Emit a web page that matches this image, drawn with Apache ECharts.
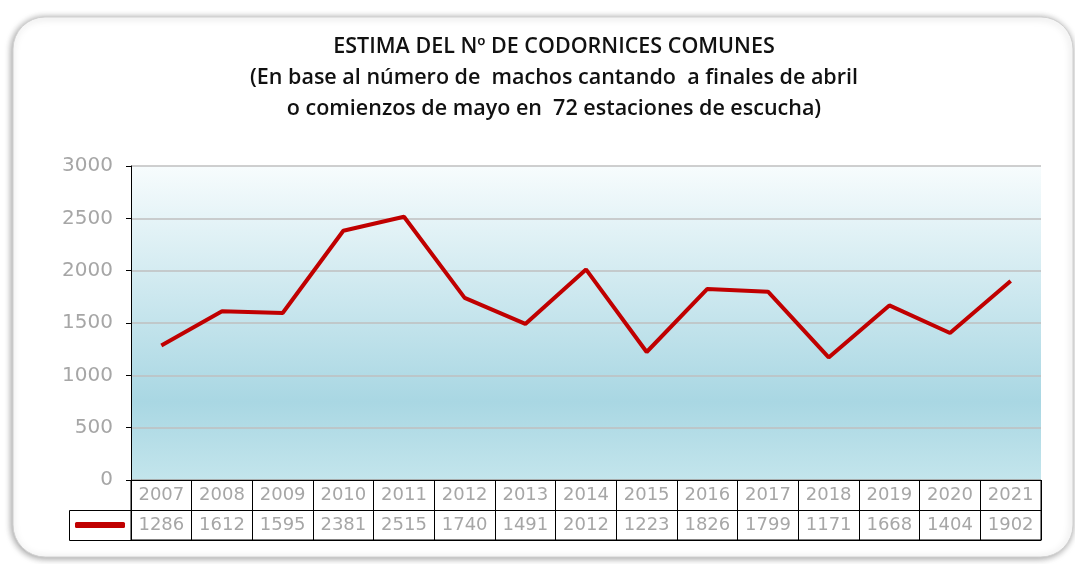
<!DOCTYPE html>
<html>
<head>
<meta charset="utf-8">
<script src="https://cdn.jsdelivr.net/npm/echarts@6/dist/echarts.min.js"></script>
<style>
  html, body { margin: 0; padding: 0; background: #fff; }
  #main { width: 1075px; height: 564px; }
</style>
</head>
<body>
<div id="main"></div>
<script>
// data
const years = ['2007', '2008', '2009', '2010', '2011', '2012', '2013', '2014', '2015', '2016', '2017', '2018', '2019', '2020', '2021'];
const estimates = [1286, 1612, 1595, 2381, 2515, 1740, 1491, 2012, 1223, 1826, 1799, 1171, 1668, 1404, 1902];
const titleLines = [
  'ESTIMA DEL Nº DE CODORNICES COMUNES',
  '(En base al número de  machos cantando  a finales de abril',
  'o comienzos de mayo en  72 estaciones de escucha)'
];

const chart = echarts.init(document.getElementById('main'));

const gridLeft = 131;
const gridRight = 34;
const labelGray = '#a6a6a6';

const option = {
  animation: false,
  title: {
    text: titleLines.join('\n'),
    left: 549,
    top: 26,
    textAlign: 'center',
    textStyle: {
      fontFamily: 'Open Sans',
      fontWeight: 600,
      fontSize: 21.5,
      lineHeight: 31,
      color: '#111'
    }
  },
  // card behind everything
  graphic: [
    {
      type: 'rect',
      z: -10,
      shape: { x: 13, y: 17, width: 1060, height: 540, r: 32 },
      style: {
        fill: '#fff',
        stroke: '#d0d0d0',
        lineWidth: 1,
        shadowBlur: 7,
        shadowOffsetX: -1,
        shadowOffsetY: 1,
        shadowColor: 'rgba(0,0,0,0.4)'
      }
    },
    {
      // legend cell of the data table
      type: 'rect',
      z: 5,
      shape: { x: 69.5, y: 510.5, width: gridLeft - 69.5, height: 30 },
      style: { fill: '#fff', stroke: '#000', lineWidth: 1 }
    }
  ],
  legend: {
    left: 70,
    top: 517,
    z: 10,
    icon: 'roundRect',
    itemWidth: 50,
    itemHeight: 6,
    formatter: () => '',
    data: [{ name: 'estima', itemStyle: { color: '#c00000' } }]
  },
  grid: [
    {
      left: gridLeft,
      right: gridRight,
      top: 166,
      height: 314,
      show: true,
      borderWidth: 0,
      backgroundColor: new echarts.graphic.LinearGradient(0, 0, 0, 1, [
        { offset: 0, color: '#f7fcfd' },
        { offset: 0.75, color: '#a9d7e3' },
        { offset: 1, color: '#c3e5ec' }
      ])
    },
    {
      // data table under the plot
      left: gridLeft,
      right: gridRight,
      top: 480,
      height: 60,
      show: true,
      backgroundColor: '#fff',
      borderColor: '#000',
      borderWidth: 1
    }
  ],
  xAxis: [
    {
      type: 'category',
      gridIndex: 0,
      data: years,
      boundaryGap: true,
      axisLine: { show: false },
      axisTick: { show: false },
      axisLabel: { show: false }
    },
    {
      type: 'category',
      gridIndex: 1,
      data: years,
      position: 'top',
      boundaryGap: true,
      axisLine: { show: true, lineStyle: { color: '#000', width: 1 } },
      axisTick: { show: false },
      splitLine: { show: true, lineStyle: { color: '#000', width: 1 } },
      axisLabel: {
        inside: true,
        margin: 0,
        interval: 0,
        formatter: (val, idx) => '{a|' + val + '}\n{a|' + estimates[idx] + '}',
        rich: {
          a: {
            fontFamily: 'DejaVu Sans',
            fontSize: 18,
            lineHeight: 30,
            color: labelGray
          }
        }
      }
    }
  ],
  yAxis: [
    {
      type: 'value',
      gridIndex: 0,
      min: 0,
      max: 3000,
      interval: 500,
      axisLine: { show: true, lineStyle: { color: '#000', width: 1 } },
      axisTick: { show: true, length: 5, lineStyle: { color: '#000' } },
      axisLabel: {
        margin: 18,
        fontFamily: 'DejaVu Sans',
        fontSize: 20,
        color: labelGray,
        formatter: (v) => String(v)
      },
      splitLine: { show: true, lineStyle: { color: '#bfbfbf', width: 1.5 } }
    },
    {
      type: 'value',
      gridIndex: 1,
      min: 0,
      max: 2,
      interval: 1,
      axisLine: { show: false },
      axisTick: { show: false },
      axisLabel: { show: false },
      splitLine: { show: true, lineStyle: { color: '#000', width: 1 } }
    }
  ],
  series: [
    {
      name: 'estima',
      type: 'line',
      xAxisIndex: 0,
      yAxisIndex: 0,
      data: estimates,
      symbol: 'none',
      lineStyle: { color: '#c00000', width: 4 },
      itemStyle: { color: '#c00000' }
    }
  ]
};

chart.setOption(option);
</script>
</body>
</html>
